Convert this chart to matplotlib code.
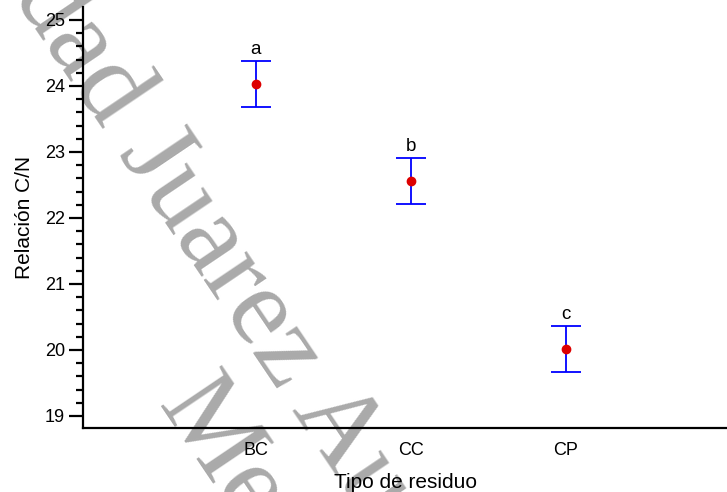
import matplotlib
matplotlib.use("Agg")
import numpy as np
import matplotlib.pyplot as plt
from matplotlib.ticker import MultipleLocator

# datos
residuos = ["BC", "CC", "CP"]
medias = [24.03, 22.56, 20.01]
error = [0.35, 0.35, 0.35]
letras = ["a", "b", "c"]

plt.rcParams["font.family"] = ["Liberation Sans", "DejaVu Sans"]

fig = plt.figure(figsize=(7.27, 4.92), dpi=100)
fig.patch.set_facecolor("white")
ax = fig.add_axes([0.1142, 0.1301, 0.8858, 0.8557])
ax.patch.set_alpha(0)

x = np.arange(1, len(residuos) + 1)
ax.errorbar(x, medias, yerr=error, fmt="none", ecolor="#0000ff",
            elinewidth=1.3, capsize=11, capthick=1.3, zorder=3)
ax.plot(x, medias, "o", color="#dd0000", markersize=6, zorder=4)

for xi, m, e, l in zip(x, medias, error, letras):
    ax.annotate(l, (xi, m + e), xytext=(0, 2), textcoords="offset points",
                ha="center", va="bottom", fontsize=13.5)

ax.set_xlim(-0.116, 4.04)
ax.set_ylim(18.818, 25.197)
ax.set_xticks(x)
ax.set_xticklabels(residuos)
ax.yaxis.set_major_locator(MultipleLocator(1))
ax.yaxis.set_minor_locator(MultipleLocator(0.2))

ax.spines["top"].set_visible(False)
ax.spines["right"].set_visible(False)
ax.spines["left"].set_linewidth(1.6)
ax.spines["bottom"].set_linewidth(1.6)

ax.tick_params(axis="x", length=0, pad=10, labelsize=13)
ax.tick_params(axis="y", which="major", length=10, width=1.6, labelsize=13, pad=3)
ax.tick_params(axis="y", which="minor", length=5, width=1.6)

ax.set_xlabel("Tipo de residuo", fontsize=15, labelpad=10)
ax.set_ylabel("Relación C/N", fontsize=15, labelpad=8)

# marca de agua
ang = -56
wm = dict(fontsize=81, color="#aaaaaa", rotation=ang, rotation_mode="anchor",
          family=["Liberation Serif", "DejaVu Serif"], zorder=-5,
          transform=None, clip_on=True)
H = 492
fig.text(118, H - 153, "Universidad ", ha="right", va="baseline", **wm)
fig.text(118, H - 153, "Juarez Autonoma de Tabasco", ha="left", va="baseline", **wm)
fig.text(157, H - 405, "Mexico", ha="left", va="baseline", **wm)

fig.savefig("out.png", dpi=100)
